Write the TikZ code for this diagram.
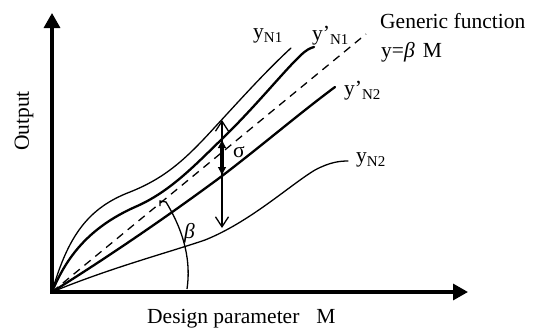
\documentclass[tikz,border=0pt]{standalone}
\usepackage{fontspec}
\setmainfont{Liberation Serif}
\usetikzlibrary{arrows.meta}
\newcommand{\lowsub}[1]{\raisebox{-0.22em}{\fontsize{15}{15}\selectfont #1}}
\begin{document}
\begin{tikzpicture}[x=1pt,y=-1pt,
  lbl/.style={inner sep=0pt, font=\fontsize{21.5}{24}\selectfont},
  curvethin/.style={line width=1.3pt, line cap=round},
  curvethick/.style={line width=2.3pt, line cap=round},
  axisline/.style={line width=3.3pt, line join=miter,
    {Triangle[length=15pt,width=16pt]}-{Triangle[length=15pt,width=16pt]}},
  genline/.style={line width=1.3pt, dash pattern=on 8pt off 6pt},
  thinarrow/.style={line width=1.3pt,
    {Straight Barb[length=10pt,width=13pt]}-{Straight Barb[length=10pt,width=13pt]}},
  thickarrow/.style={line width=3.5pt,
    {Latex[length=9pt,width=9pt]}-{Latex[length=9pt,width=9pt]}},
  anglearc/.style={line width=1.3pt}
]
\useasboundingbox (0,0) rectangle (536,330);

% named points
\coordinate (O) at (52,292);
\coordinate (ytop) at (52,13);
\coordinate (xend) at (468,292);
\coordinate (gend) at (366,34);
\coordinate (a1) at (222,120);
\coordinate (a2) at (222,228);
\coordinate (b1) at (222,139);
\coordinate (b2) at (222,176);

% axes
\draw[axisline] (ytop) -- (O) -- (xend);

% generic function (dashed)
\draw[genline] (O) -- (gend);

% y_N1 (thin)
\draw[curvethin] (O) .. controls (68,236) and (88,208) .. (130,192)
  .. controls (165,178) and (185,160) .. (215,127)
  .. controls (240,100) and (265,72) .. (291,48);

% y'_N1 (thick)
\draw[curvethick] (O) .. controls (66,258) and (88,228) .. (135,207)
  .. controls (170,192) and (195,165) .. (222,139)
  .. controls (255,107) and (285,70) .. (300,56)
  .. controls (306,50) and (310,48) .. (314,47);

% y'_N2 (thick)
\draw[curvethick] (O) .. controls (100,262) and (160,222) .. (222,176)
  .. controls (265,143) and (300,113) .. (335,87);

% y_N2 (thin)
\draw[curvethin] (O) .. controls (110,268) and (170,252) .. (205,240)
  .. controls (250,222) and (290,185) .. (315,170)
  .. controls (330,162) and (340,161) .. (348,161);

% sigma arrows
\draw[thinarrow] (a1) -- (a2);
\draw[thickarrow] (b1) -- (b2);

% beta angle arc
\draw[anglearc] (160,206) -- (160,201) -- (166,202)
  .. controls (180,225) and (192,255) .. (187,289);

% labels
\node[lbl, anchor=base west] (lyN1) at (253,38) {y\lowsub{N1}};
\node[lbl, anchor=base west] (lypN1) at (312,40) {y’\lowsub{N1}};
\node[lbl, anchor=base west] (lypN2) at (344,95) {y’\lowsub{N2}};
\node[lbl, anchor=base west] (lyN2) at (356,162) {y\lowsub{N2}};
\node[lbl, anchor=base west] (lgen) at (380,28) {Generic function};
\node[lbl, anchor=base west] (lgeq) at (381,57) {y=\textit{β}\hspace{8pt}M};
\node[lbl, rotate=90] (lout) at (24,121) {Output};
\node[lbl, anchor=base west] (ldes) at (147,323) {Design parameter\hspace{17pt}M};
\node[lbl, anchor=base west] (lsig) at (233,157) {σ};
\node[lbl, anchor=base west] (lbeta) at (184,238) {\textit{β}};
\end{tikzpicture}
\end{document}
